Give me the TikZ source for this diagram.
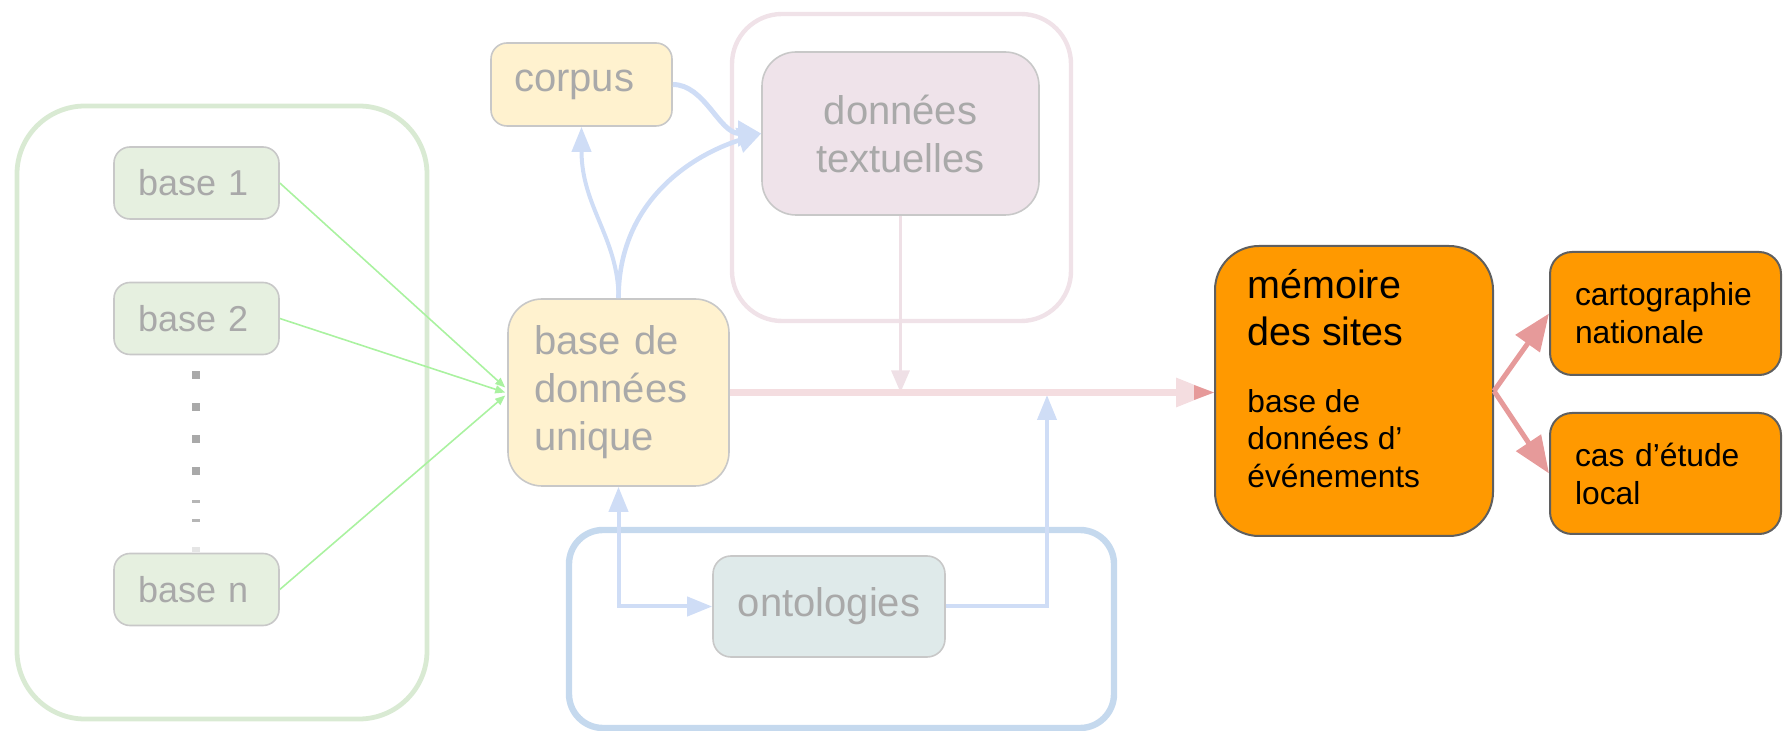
\documentclass[tikz,border=0pt]{standalone}
\usepackage{fontspec}
\setmainfont{Liberation Sans}
\usetikzlibrary{arrows.meta,calc}

\definecolor{grnframe}{HTML}{D9EAD3}
\definecolor{grnfill}{HTML}{E6F0E0}
\definecolor{grnline}{HTML}{AAF2A0}
\definecolor{pinkframe}{HTML}{F0E2E8}
\definecolor{pinkfill}{HTML}{EFE3EA}
\definecolor{pinkline}{HTML}{F4DDE0}
\definecolor{pinkvert}{HTML}{EFE0E6}
\definecolor{pinkdark}{HTML}{E69A9A}
\definecolor{blueframe}{HTML}{C5D9EE}
\definecolor{blueline}{HTML}{CFDDF6}
\definecolor{yellowfill}{HTML}{FFF2CF}
\definecolor{ontofill}{HTML}{DFEAEA}
\definecolor{boxline}{HTML}{C8C8C8}
\definecolor{graytxt}{HTML}{A9A9A9}
\definecolor{orangefill}{HTML}{FF9900}
\definecolor{orangeline}{HTML}{5F5F5F}

\begin{document}
\begin{tikzpicture}[x=0.5pt,y=-0.5pt,
  btip/.tip={Triangle[length=12.5pt,width=9.5pt]},
  softbox/.style={draw=boxline, line width=0.8pt, text=graytxt, inner ysep=0pt},
  basebox/.style={softbox, fill=grnfill, rounded corners=8pt,
    minimum width=82.5pt, minimum height=36pt, inner xsep=12pt,
    text width=58.5pt, align=left, font=\fontsize{18}{22}\selectfont},
  bigtxt/.style={font=\fontsize{20}{24}\selectfont},
  hotbox/.style={draw=orangeline, line width=1pt, fill=orangefill, text=black, inner ysep=0pt},
  outbox/.style={hotbox, rounded corners=11pt, minimum width=115.5pt,
    inner xsep=12.5pt, text width=90.5pt, align=left, font=\fontsize{15.9}{19}\selectfont},
  gline/.style={draw=grnline, line width=0.8pt, -{Triangle[length=5pt,width=4pt]}},
  bline/.style={draw=blueline, line width=2pt},
  dline/.style={draw=pinkdark, line width=2.5pt, -{Triangle[length=18.5pt,width=14.5pt]}}
]
\useasboundingbox (0,0) rectangle (1783,731);

% group frames
\draw[line width=2.4pt, grnframe, rounded corners=34pt] (17,106) rectangle (427,719);
\draw[line width=2.2pt, pinkframe, rounded corners=25pt] (732,14) rectangle (1071,321);
\draw[line width=3.2pt, blueframe, rounded corners=17pt] (569,530) rectangle (1114,728);

% source databases
\node[basebox] (base1) at (196.5,183) {base 1};
\node[basebox] (base2) at (196.5,318.5) {base 2};
\node[basebox] (basen) at (196.5,589.5) {base n};

% vertical ellipsis between the databases
\foreach \yy in {375,407,439,471}
  \fill[graytxt] (191.5,\yy-4) rectangle ++(8,8);
\fill[graytxt!85] (191.5,500) rectangle ++(8,3);
\fill[graytxt!85] (191.5,519) rectangle ++(8,3);
\fill[graytxt!30] (191.5,547) rectangle ++(8,5);

% central boxes
\node[softbox, bigtxt, fill=yellowfill, rounded corners=8pt,
  minimum width=90.5pt, minimum height=41.5pt, inner xsep=11.5pt,
  text width=67.5pt, align=left] (corpus) at (581.5,84.5) {corpus};
\node[softbox, bigtxt, fill=yellowfill, rounded corners=17pt,
  minimum width=110.5pt, minimum height=93.5pt, inner xsep=13pt,
  text width=84.5pt, align=left] (bdu) at (618.5,392.5) {base de\\données\\unique};
\node[softbox, bigtxt, fill=pinkfill, rounded corners=17pt,
  minimum width=138.5pt, minimum height=81.5pt, inner xsep=5pt,
  text width=128.5pt, align=center] (dt) at (900.5,133.5) {données\\textuelles};
\node[softbox, bigtxt, fill=ontofill, rounded corners=9pt,
  minimum width=116pt, minimum height=50.5pt, inner xsep=5pt,
  text width=106pt, align=center] (onto) at (829,606.5) {ontologies};

% result boxes
\node[hotbox, rounded corners=22pt, minimum width=139pt, minimum height=145pt] (mem) at (1354,391) {};
\node[anchor=west, align=left, inner sep=0pt, font=\fontsize{19.75}{23.5}\selectfont]
  (memtitle) at (1247,307.5) {mémoire\\des sites};
\node[anchor=west, align=left, inner sep=0pt, font=\fontsize{15.85}{18.75}\selectfont]
  (memsub) at (1247,438.5) {base de\\données d’\\événements};
\node[outbox, minimum height=61.5pt] (carto) at (1665.5,313.5) {cartographie\\nationale};
\node[outbox, minimum height=60.5pt] (cas) at (1665.5,473.5) {cas d’étude\\local};

% feeds from the source databases
\draw[gline] (base1.east) -- ($(bdu.west)+(-2,-5)$);
\draw[gline] (base2.east) -- ($(bdu.west)+(-2,0)$);
\draw[gline] (basen.east) -- ($(bdu.west)+(-2,3)$);

% corpus and textual data
\draw[bline, -btip] (bdu.north) .. controls +(0,-60) and +(0,80) .. (corpus.south);
\draw[bline, line width=2.3pt, -{Triangle[length=11.5pt,width=12.5pt]}] (bdu.north) .. controls +(0,-100) and +(-65,20) .. (dt.west);
\draw[bline, line width=2.5pt, -{Triangle[length=11.5pt,width=12.5pt]}] (corpus.east) .. controls +(32,0) and +(-42,0) .. (dt.west);

% ontologies
\coordinate (ontoup) at (1047,395);
\draw[bline, btip-btip] (bdu.south) |- (onto.west);
\draw[bline, -btip] (onto.east) -| (ontoup);

% main flow into the site memory
\draw[draw=pinkvert, line width=1.6pt, -{Triangle[length=11pt,width=9pt]}] (dt.south) -- (dt.south |- bdu.east);
\draw[draw=pinkline, line width=3.2pt, -{Triangle[length=19pt,width=14pt]}] (bdu.east) -- (bdu.east -| mem.west);
\fill[pinkdark] (bdu.east -| mem.west) -- ++(-20,-7.5) -- ++(0,15) -- cycle;

% outputs
\draw[dline] (mem.east) -- (carto.west);
\draw[dline] (mem.east) -- (cas.west);
\end{tikzpicture}
\end{document}
